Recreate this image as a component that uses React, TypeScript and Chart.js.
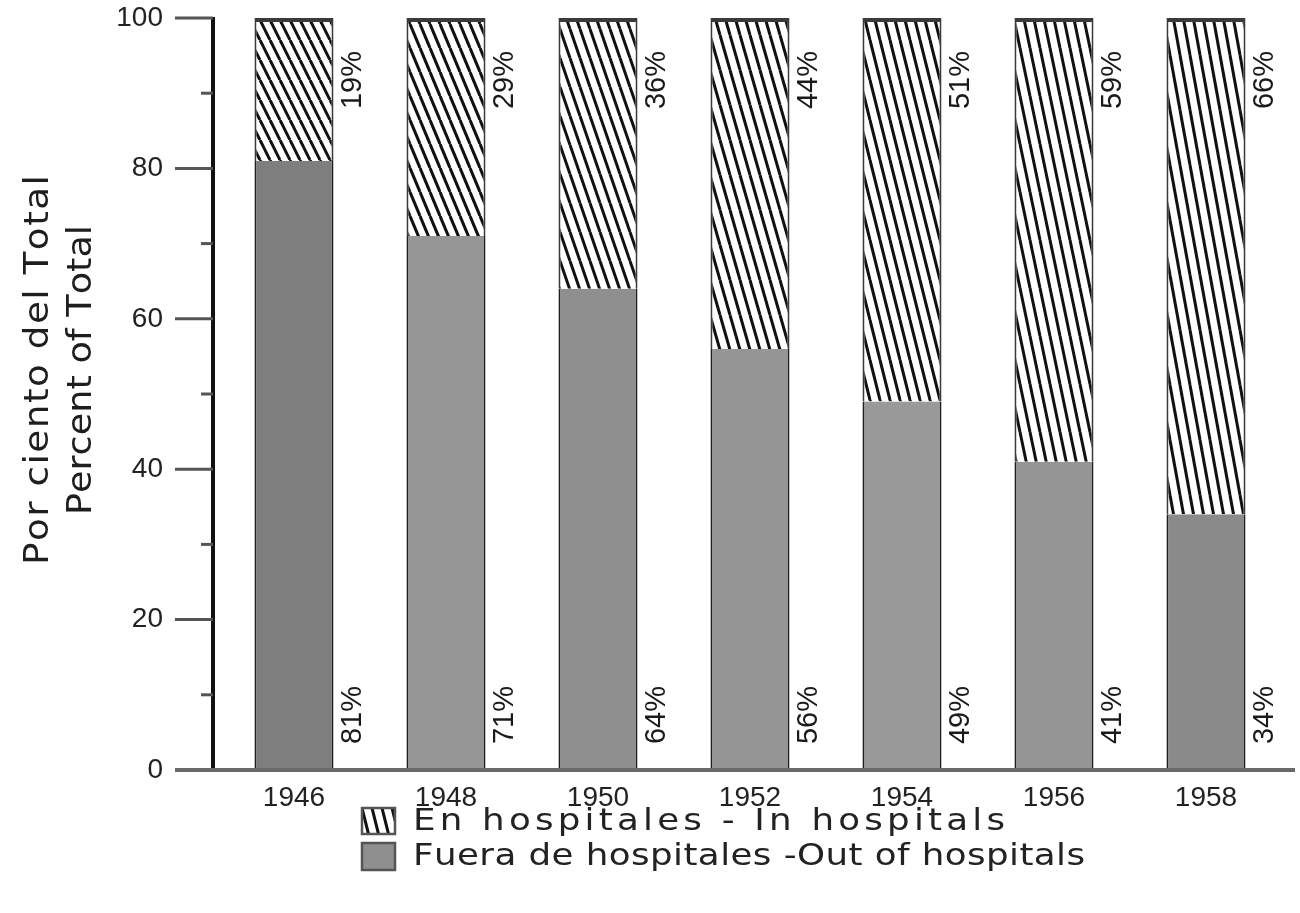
import React, { useEffect, useRef } from 'react';
import { Chart, registerables } from 'chart.js';

Chart.register(...registerables);

// ---- data ----
const years = ['1946', '1948', '1950', '1952', '1954', '1956', '1958'];
const inHospitals = [19, 29, 36, 44, 51, 59, 66];
const outHospitals = [81, 71, 64, 56, 49, 41, 34];
const yTickStep = 20;
const seriesNames = ['En hospitales - In hospitals', 'Fuera de hospitales -Out of hospitals'];
const axisTitle = ['Por ciento del Total', 'Percent of Total'];

// ---- styles ----
const hatchSlopes = [2, 2.4, 2.9, 3.5, 4, 4.8, 5.5];
const outShades = ['#7e7e7e', '#969696', '#8f8f8f', '#959595', '#999999', '#959595', '#8a8a8a'];
const NUM_FONT = '"Liberation Sans", Arial, sans-serif';
const TXT_FONT = '"DejaVu Sans", sans-serif';

function makeHatch(slope: number): CanvasPattern | string {
  const p = 10;
  const h = Math.max(1, Math.round(p * slope));
  const c = document.createElement('canvas');
  c.width = p;
  c.height = h;
  const g = c.getContext('2d');
  if (!g) return '#fff';
  g.fillStyle = '#ffffff';
  g.fillRect(0, 0, p, h);
  g.strokeStyle = '#111111';
  g.lineWidth = 3;
  for (let k = -1; k <= 1; k++) {
    g.beginPath();
    g.moveTo(k * p, 0);
    g.lineTo(k * p + p, h);
    g.stroke();
  }
  const pat = g.createPattern(c, 'repeat');
  return pat || '#fff';
}

// draws text starting at x (left), filling `width` by a mild horizontal stretch plus letter spacing
function drawFit(ctx: CanvasRenderingContext2D, text: string, x: number, y: number, width: number, maxStretch: number) {
  const chars = Array.from(text);
  const ws = chars.map((ch) => ctx.measureText(ch).width);
  const natural = ws.reduce((a, b) => a + b, 0);
  const sx = Math.max(1, Math.min(maxStretch, width / natural));
  const gap = chars.length > 1 ? (width / sx - natural) / (chars.length - 1) : 0;
  ctx.save();
  ctx.translate(x, y);
  ctx.scale(sx, 1);
  let cx = 0;
  chars.forEach((ch, i) => {
    ctx.fillText(ch, cx, 0);
    cx += ws[i] + gap;
  });
  ctx.restore();
}

const decor = {
  id: 'decor',
  afterDatasetsDraw(chart: any) {
    const { ctx, chartArea, scales } = chart;
    const ys = scales.y;
    const axisX = chartArea.left - 5;
    ctx.save();
    ctx.strokeStyle = '#111';
    ctx.lineWidth = 4;
    ctx.beginPath();
    ctx.moveTo(axisX, ys.getPixelForValue(100) - 1);
    ctx.lineTo(axisX, ys.getPixelForValue(0));
    ctx.stroke();
    ctx.strokeStyle = '#555';
    ctx.lineWidth = 3;
    for (let v = 0; v <= 100; v += 10) {
      const py = ys.getPixelForValue(v);
      const major = v % yTickStep === 0;
      ctx.beginPath();
      ctx.moveTo(major ? axisX - 38 : axisX - 12, py);
      ctx.lineTo(axisX, py);
      ctx.stroke();
    }
    ctx.strokeStyle = '#6a6a6a';
    ctx.lineWidth = 4;
    ctx.beginPath();
    ctx.moveTo(axisX - 38, ys.getPixelForValue(0));
    ctx.lineTo(chartArea.right + 13, ys.getPixelForValue(0));
    ctx.stroke();
    ctx.restore();
  },
  afterDraw(chart: any) {
    const { ctx, chartArea } = chart;
    ctx.save();
    ctx.fillStyle = '#1a1a1a';
    ctx.font = `29px ${NUM_FONT}`;
    ctx.textAlign = 'center';
    ctx.textBaseline = 'middle';
    const metaOut = chart.getDatasetMeta(0);
    years.forEach((_, i) => {
      const bOut = metaOut.data[i];
      const lx = bOut.x + bOut.width / 2 + 19;
      const items: [number, string][] = [
        [chartArea.top + 62, `${inHospitals[i]}%`],
        [chartArea.bottom - 55, `${outHospitals[i]}%`],
      ];
      items.forEach(([ly, t]) => {
        ctx.save();
        ctx.translate(lx, ly);
        ctx.rotate(-Math.PI / 2);
        ctx.fillText(t, 0, 0);
        ctx.restore();
      });
    });
    // y axis title
    ctx.font = `34px ${TXT_FONT}`;
    ctx.textAlign = 'left';
    ctx.fillStyle = '#1e1e1e';
    const titlePos: [number, number, number][] = [
      [39, 370, 390],
      [82, 370, 290],
    ];
    axisTitle.forEach((t, i) => {
      const [cx, cy, w] = titlePos[i];
      ctx.save();
      ctx.translate(cx, cy);
      ctx.rotate(-Math.PI / 2);
      drawFit(ctx, t, -w / 2, 0, w, 1.1);
      ctx.restore();
    });
    // legend
    const sw: [number, number, number, number][] = [
      [362, 808, 33, 26],
      [362, 843, 33, 27],
    ];
    const fills = [makeHatch(4), '#8f8f8f'];
    sw.forEach(([x, y, w, h], i) => {
      ctx.fillStyle = fills[i] as any;
      ctx.fillRect(x, y, w, h);
      ctx.strokeStyle = '#555';
      ctx.lineWidth = 2.5;
      ctx.strokeRect(x, y, w, h);
    });
    ctx.fillStyle = '#222';
    ctx.font = `31px ${TXT_FONT}`;
    ctx.textBaseline = 'middle';
    drawFit(ctx, seriesNames[0], 413, 822, 592, 1.15);
    drawFit(ctx, seriesNames[1], 413, 857, 672, 1.15);
    ctx.restore();
  },
};

export default function App() {
  const ref = useRef<HTMLCanvasElement>(null);
  useEffect(() => {
    const canvas = ref.current;
    if (!canvas) return;
    const patterns = hatchSlopes.map((s) => makeHatch(s));
    const chart = new Chart(canvas, {
      type: 'bar',
      data: {
        labels: years,
        datasets: [
          {
            label: seriesNames[1],
            data: outHospitals,
            backgroundColor: outShades,
            borderColor: '#1e1e1e',
            borderWidth: { left: 2, right: 2, top: 0, bottom: 0 },
            borderSkipped: false,
            stack: 's',
            barPercentage: 0.52,
            categoryPercentage: 1,
          },
          {
            label: seriesNames[0],
            data: inHospitals,
            backgroundColor: patterns as any,
            borderColor: '#3a3a3a',
            borderWidth: { left: 2, right: 2, top: 4, bottom: 0 },
            borderSkipped: false,
            stack: 's',
            barPercentage: 0.52,
            categoryPercentage: 1,
          },
        ],
      },
      options: {
        animation: false,
        responsive: false,
        layout: { padding: { left: 0, top: 18, right: 18, bottom: 0 } },
        plugins: { legend: { display: false }, tooltip: { enabled: false } },
        scales: {
          x: {
            stacked: true,
            grid: { display: false, drawTicks: false },
            border: { display: false },
            ticks: { font: { family: NUM_FONT, size: 28 }, color: '#222', padding: 11, maxRotation: 0 },
            afterFit: (s: any) => {
              s.height = 143;
              s.paddingLeft = 0;
              s.paddingRight = 0;
            },
          },
          y: {
            stacked: true,
            min: 0,
            max: 100,
            grid: { display: false, drawTicks: false },
            border: { display: false },
            ticks: { stepSize: yTickStep, font: { family: NUM_FONT, size: 28 }, color: '#222', padding: 55 },
            afterFit: (s: any) => {
              s.width = 218;
              s.paddingTop = 0;
              s.paddingBottom = 0;
            },
          },
        },
      },
      plugins: [decor],
    });
    return () => chart.destroy();
  }, []);
  return (
    <div style={{ position: 'fixed', left: 0, top: 0, width: 1300, height: 913, background: '#fff' }}>
      <canvas ref={ref} width={1300} height={913} style={{ width: 1300, height: 913, display: 'block' }} />
    </div>
  );
}
